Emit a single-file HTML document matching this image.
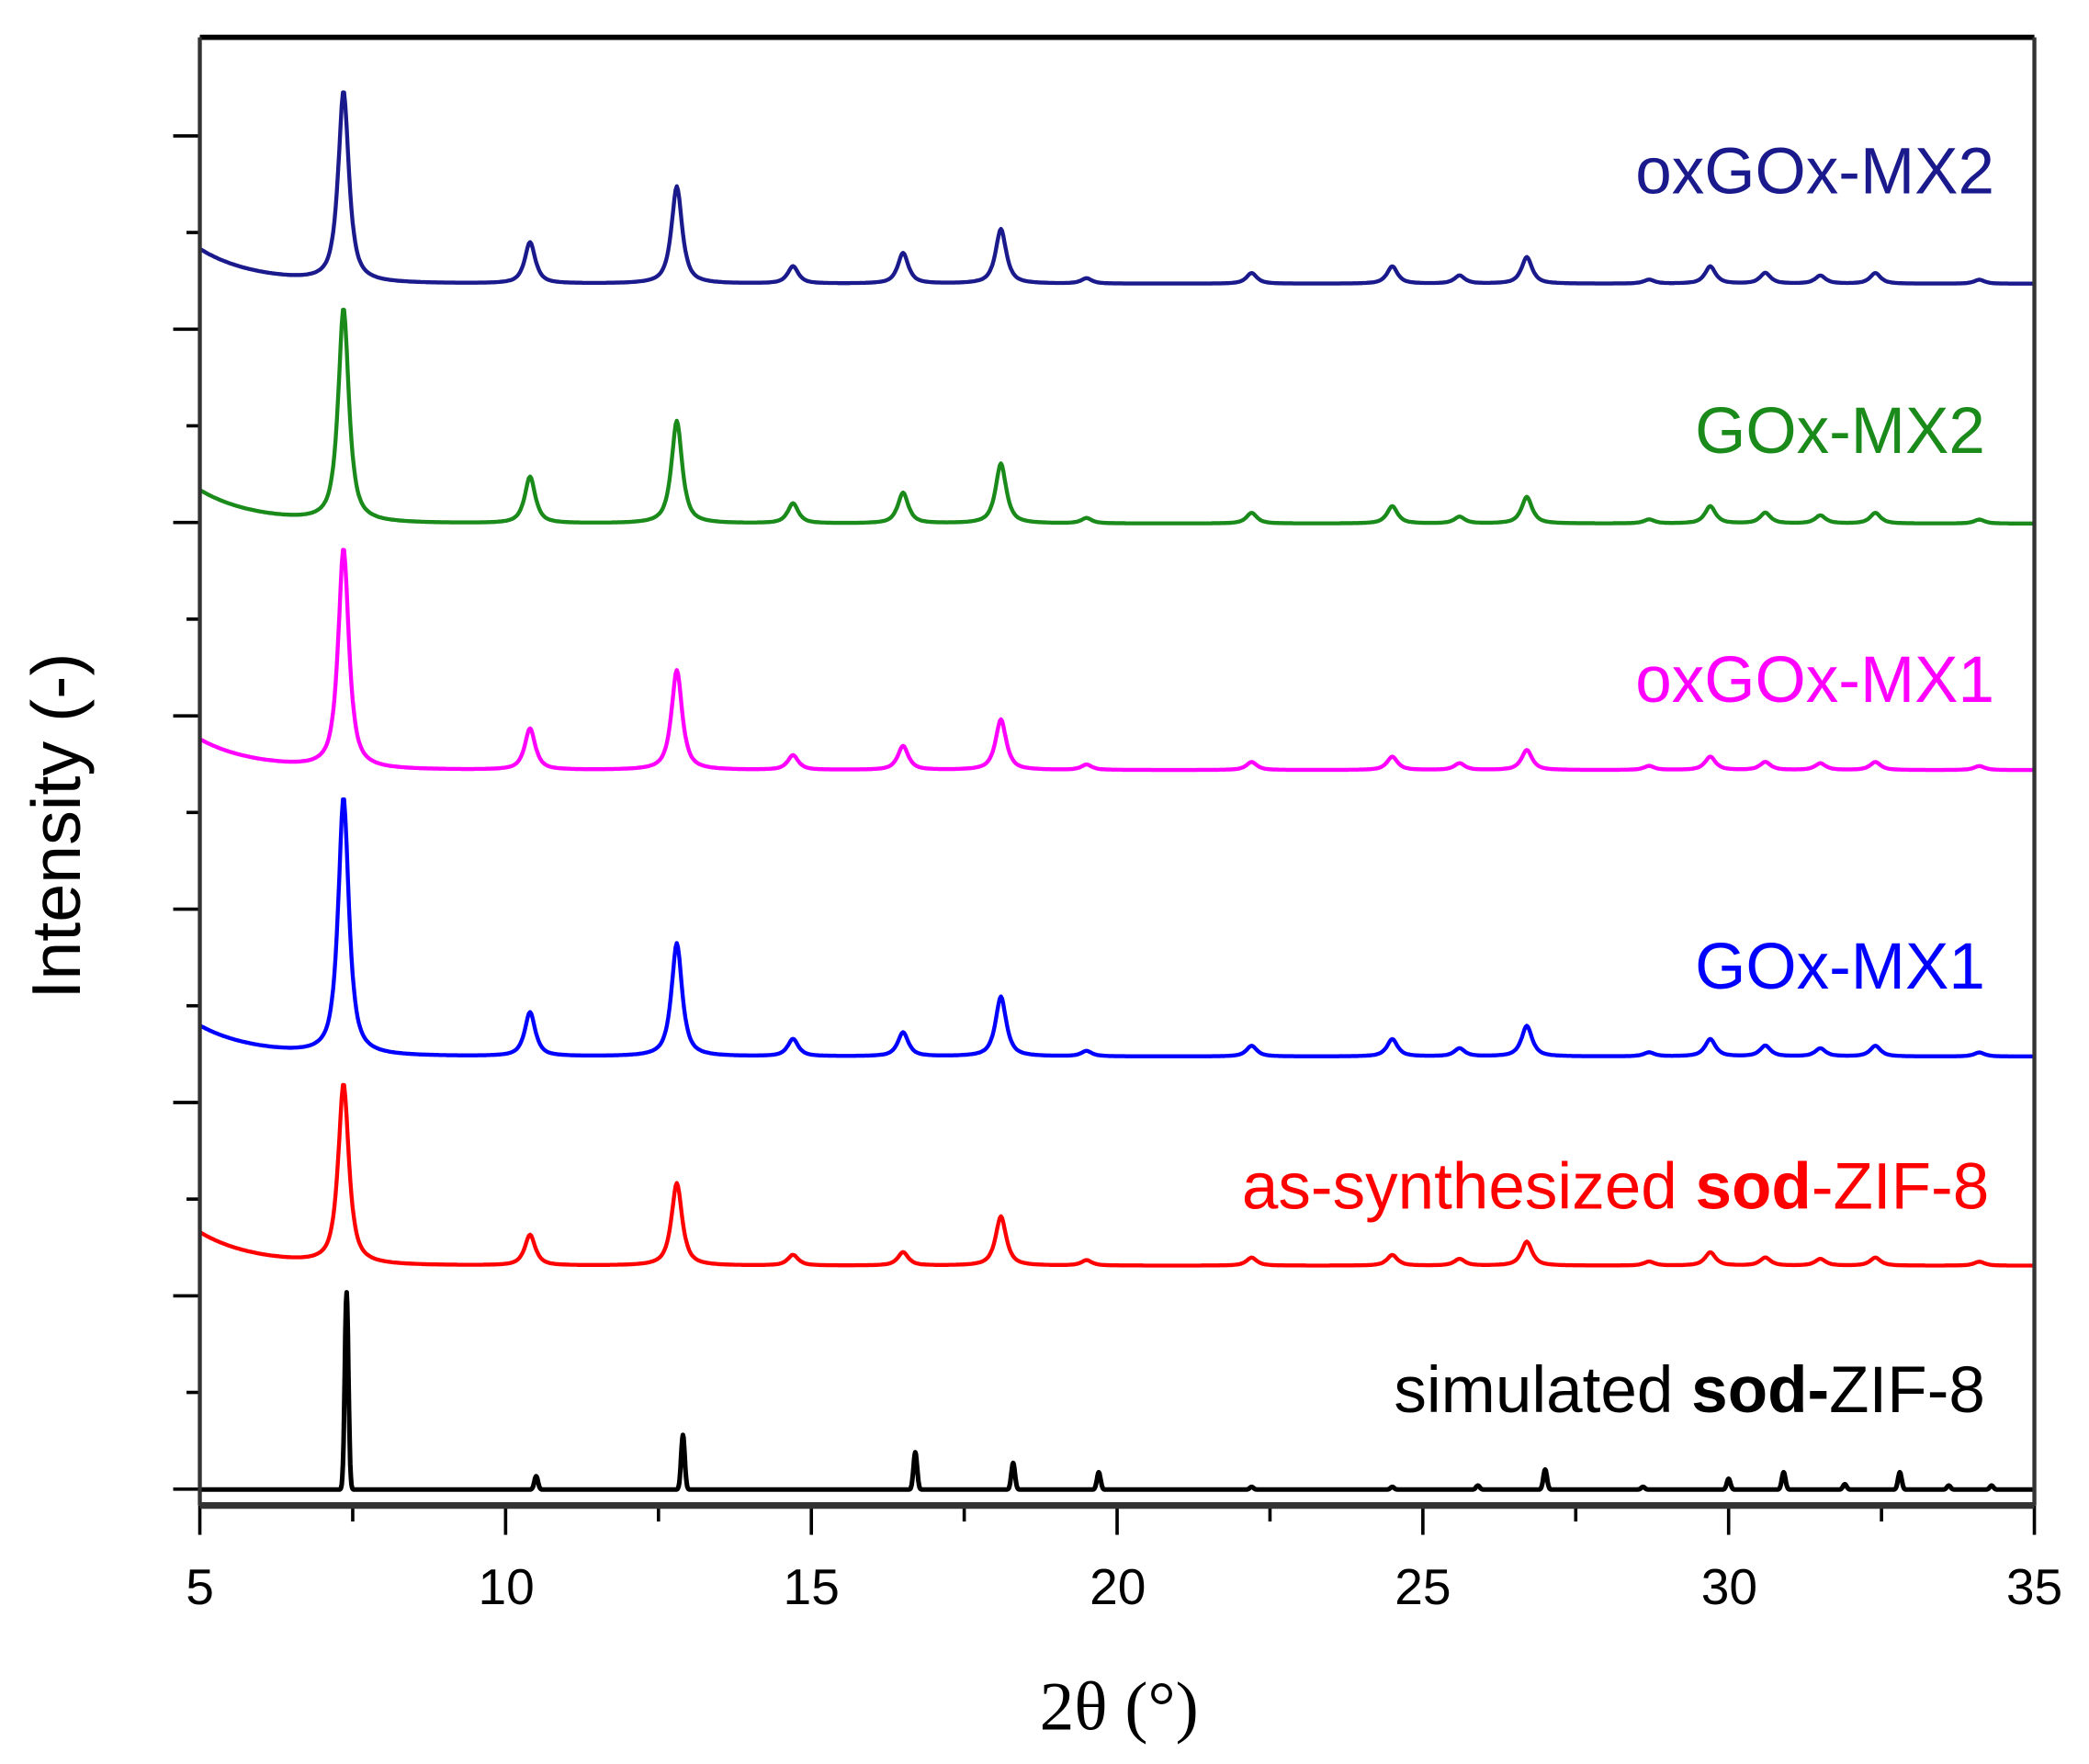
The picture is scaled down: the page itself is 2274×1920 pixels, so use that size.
<!DOCTYPE html>
<html><head><meta charset="utf-8"><style>
html,body{margin:0;padding:0;background:#fff;}
svg{display:block;}
</style></head><body>
<svg id="s" width="2274" height="1920" viewBox="0 0 1568 1324" preserveAspectRatio="none" xmlns="http://www.w3.org/2000/svg">
<rect width="1568" height="1324" fill="#fff"/>
<g id="curves" fill="none" stroke-width="3" stroke-linejoin="round"></g>
<g id="ticks" stroke="#000" stroke-width="2.5"></g>
<line x1="150" y1="28" x2="1527" y2="28" stroke="#000" stroke-width="4"/>
<line x1="150" y1="28" x2="150" y2="1130" stroke="#333" stroke-width="3"/>
<line x1="1527" y1="28" x2="1527" y2="1130" stroke="#333" stroke-width="3"/>
<line x1="150" y1="1130" x2="1527" y2="1130" stroke="#333" stroke-width="5"/>
<g font-family="Liberation Sans, sans-serif" font-size="38" text-anchor="middle" fill="#000">
<text x="150" y="1204">5</text><text x="380" y="1204">10</text><text x="609" y="1204">15</text><text x="839" y="1204">20</text><text x="1068" y="1204">25</text><text x="1298" y="1204">30</text><text x="1527" y="1204">35</text>
</g>
<text x="840" y="1298" font-family="Liberation Serif, serif" font-size="52" text-anchor="middle">2θ (°)</text>
<text transform="translate(60,620) rotate(-90)" font-family="Liberation Sans, sans-serif" font-size="52" text-anchor="middle">Intensity (-)</text>
<g font-family="Liberation Sans, sans-serif" font-size="49" text-anchor="end">
<text x="1497" y="145" fill="#1a1a8c">oxGOx-MX2</text>
<text x="1490" y="340" fill="#1a8a1a">GOx-MX2</text>
<text x="1497" y="527" fill="#ff00ff">oxGOx-MX1</text>
<text x="1490" y="742" fill="#0000ff">GOx-MX1</text>
<text x="1493" y="907" fill="#ff0000">as-synthesized <tspan font-weight="bold">sod</tspan>-ZIF-8</text>
<text x="1490" y="1060" fill="#000">simulated <tspan font-weight="bold">sod-</tspan>ZIF-8</text>
</g>
</svg>
<script>
var X=function(t){return 150+(t-5)*45.9;};
var NS="http://www.w3.org/2000/svg";
var tk=document.getElementById('ticks');
function ln(x1,y1,x2,y2){var l=document.createElementNS(NS,'line');l.setAttribute('x1',x1);l.setAttribute('y1',y1);l.setAttribute('x2',x2);l.setAttribute('y2',y2);tk.appendChild(l);}
for(var t=5;t<=35;t+=2.5){var x=X(t);ln(x,1130,x,(t%5==0)?1152:1142);}
for(var i=0;i<8;i++){var y=102+i*145.1;ln(130,y,150,y);if(i<7)ln(140,y+72.5,150,y+72.5);}
var exp=[[7.35,0],[10.4,1],[12.8,2],[14.7,3],[16.5,4],[18.1,5],[19.5,6],[22.2,7],[24.5,8],[25.6,9],[26.7,10],[28.7,11],[29.7,12],[30.6,13],[31.5,14],[32.4,15],[34.1,16]];
var series=[
 {c:"#1a1a8c",b:213,s:187,h:[143,31,73,13,23,41,4,8,13,6,20,3,13,8,6,8,3]},
 {c:"#1a8a1a",b:393,s:368,h:[160,35,77,15,23,45,4,8,13,5,20,3,13,8,6,8,3]},
 {c:"#ff00ff",b:578,s:555,h:[165,31,75,11,18,38,4,6,10,5,15,3,10,6,5,6,3]},
 {c:"#0000ff",b:793,s:770,h:[193,33,85,13,18,45,4,8,13,6,23,3,13,8,6,8,3]},
 {c:"#ff0000",b:950,s:925,h:[135,23,62,8,10,37,4,6,8,5,18,3,10,6,5,6,3]}
];
var g=document.getElementById('curves');
series.forEach(function(S){
 var d="";
 for(var t=5;t<=35.001;t+=0.02){
  var y=S.b+(S.s-S.b)*Math.exp(-(t-5)/0.9);
  for(var k=0;k<exp.length;k++){var w=0.1;var u=(t-exp[k][0])/w;y-=S.h[k]/(1+u*u)*0.85+S.h[k]*0.15*Math.exp(-u*u*0.5);}
  d+=(d?"L":"M")+X(t).toFixed(1)+","+y.toFixed(1);
 }
 var p=document.createElementNS(NS,'path');p.setAttribute('d',d);p.setAttribute('stroke',S.c);g.appendChild(p);
});
var sim=[[7.4,148],[10.5,10],[12.9,41],[16.7,28],[18.3,20],[19.7,13],[22.2,2],[24.5,2],[25.9,3],[27.0,15],[28.6,2],[30.0,8],[30.9,13],[31.9,4],[32.8,13],[33.6,3],[34.3,3]];
var d="";
for(var t=5;t<=35.001;t+=0.01){var y=1118;for(var k=0;k<sim.length;k++){var u=(t-sim[k][0])/0.035;y-=sim[k][1]*Math.exp(-u*u*0.7);}d+=(d?"L":"M")+X(t).toFixed(1)+","+y.toFixed(1);}
var p=document.createElementNS(NS,'path');p.setAttribute('d',d);p.setAttribute('stroke','#000');p.setAttribute('stroke-width','3.5');g.appendChild(p);
</script>
</body></html>
